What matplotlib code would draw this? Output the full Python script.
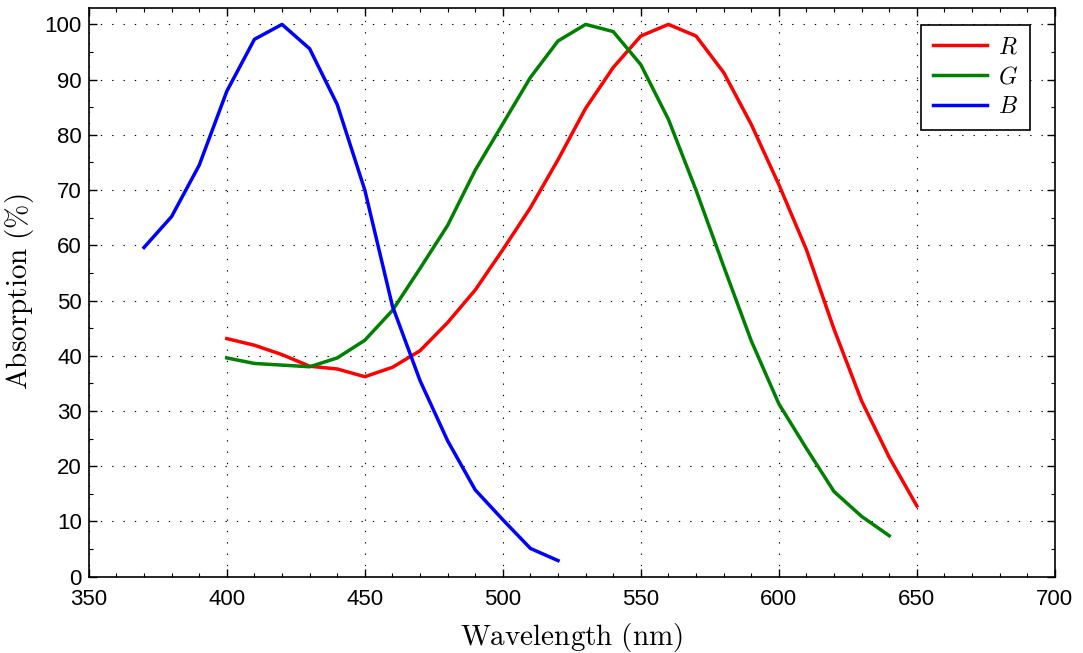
import numpy as np
import matplotlib
matplotlib.use("Agg")
import matplotlib.pyplot as plt
from matplotlib.ticker import MultipleLocator

plt.rcParams['mathtext.fontset'] = 'cm'
plt.rcParams['font.family'] = ['Liberation Sans', 'DejaVu Sans']

# absorption curves
wl_r = [400, 410, 420, 430, 440, 450, 460, 470, 480, 490, 500, 510, 520, 530, 540,
        550, 560, 570, 580, 590, 600, 610, 620, 630, 640, 650]
abs_r = [43.1, 41.9, 40.2, 38.1, 37.6, 36.2, 37.9, 40.9, 46.0, 51.9, 59.2, 66.8, 75.5, 84.8, 92.2,
         97.9, 100.0, 97.9, 91.3, 81.9, 71.0, 59.2, 44.8, 31.8, 21.6, 12.8]

wl_g = [400, 410, 420, 430, 440, 450, 460, 470, 480, 490, 500, 510, 520, 530, 540,
        550, 560, 570, 580, 590, 600, 610, 620, 630, 640]
abs_g = [39.6, 38.6, 38.3, 38.0, 39.6, 42.8, 48.2, 55.8, 63.6, 73.6, 82.0, 90.4, 97.0, 100.0, 98.7,
         92.7, 82.8, 70.0, 56.2, 42.7, 31.3, 23.2, 15.4, 10.9, 7.4]

wl_b = [370, 380, 390, 400, 410, 420, 430, 440, 450, 460, 470, 480, 490, 500, 510, 520]
abs_b = [59.6, 65.2, 74.5, 87.9, 97.3, 100.0, 95.6, 85.5, 70.0, 49.0, 35.5, 24.6, 15.7, 10.3, 5.1, 2.9]

fig = plt.figure(figsize=(10.83, 6.53), dpi=100)
ax = fig.add_axes([0.082, 0.117, 0.892, 0.871])

ax.plot(wl_r, abs_r, color='#ff0000', lw=2.5, label='$R$')
ax.plot(wl_g, abs_g, color='#008000', lw=2.5, label='$G$')
ax.plot(wl_b, abs_b, color='#0000ff', lw=2.5, label='$B$')

ax.set_xlim(350, 700)
ax.set_ylim(0, 103)
ax.xaxis.set_major_locator(MultipleLocator(50))
ax.xaxis.set_minor_locator(MultipleLocator(10))
ax.yaxis.set_major_locator(MultipleLocator(10))
ax.yaxis.set_minor_locator(MultipleLocator(5))
ax.tick_params(which='both', direction='in', top=True, right=True, labelsize=16)
ax.tick_params(which='major', length=6, width=1)
ax.tick_params(which='minor', length=3, width=0.8)
ax.tick_params(axis='x', which='major', pad=9)
ax.tick_params(axis='y', which='major', pad=5)
for s in ax.spines.values():
    s.set_linewidth(1.2)

ax.grid(True, which='major', color='black', lw=0.8, linestyle=(0, (1.2, 9)))

ax.set_xlabel(r'$\mathrm{Wavelength\ (nm)}$', fontsize=21, labelpad=8)
ax.set_ylabel(r'$\mathrm{Absorption\ (\%)}$', fontsize=21, labelpad=6)

leg = ax.legend(loc='upper right', bbox_to_anchor=(0.974, 0.97), fontsize=17,
                fancybox=False, framealpha=1, edgecolor='black',
                handlelength=2.3, handletextpad=0.45, labelspacing=0.32,
                borderpad=0.5, borderaxespad=0)
leg.get_frame().set_linewidth(1.2)

fig.savefig('out.png', dpi=100)
